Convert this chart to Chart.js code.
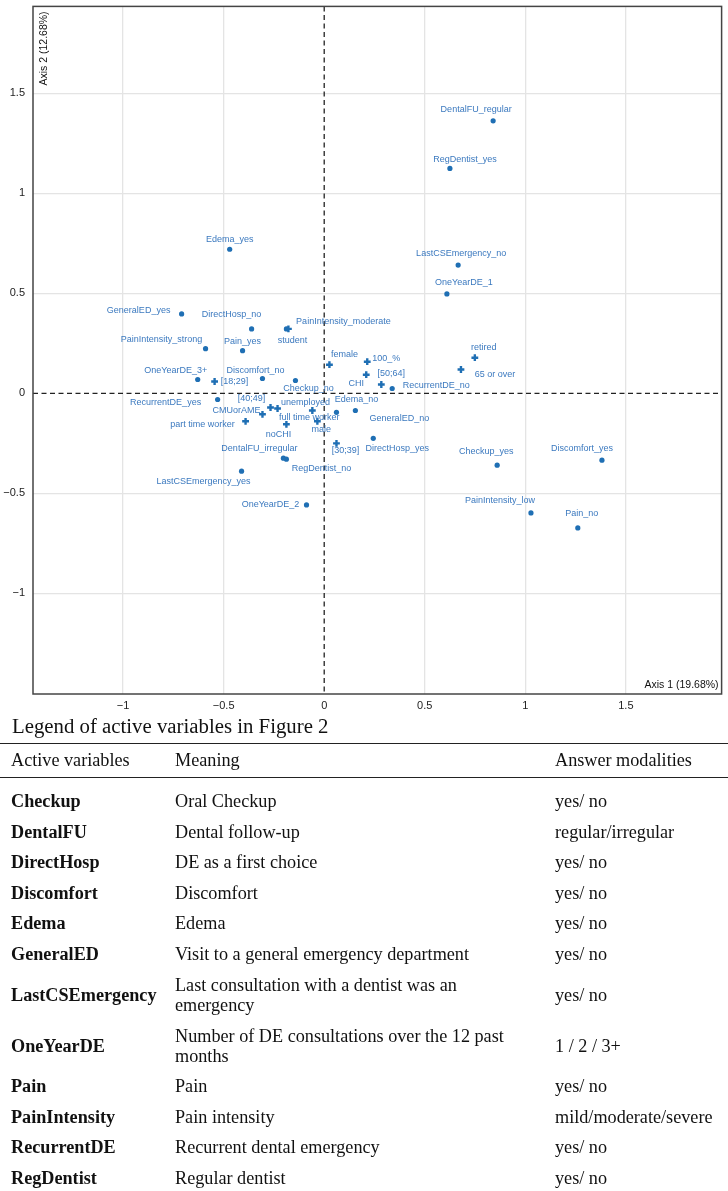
<!DOCTYPE html>
<html>
<head>
<meta charset="utf-8">
<script src="https://cdn.jsdelivr.net/npm/chart.js@4.4.1/dist/chart.umd.min.js"></script>
<style>
body{margin:0;background:#fff;width:728px;height:1191px;overflow:hidden}
#wrap{width:728px;height:716px}
.title{font-family:"Liberation Serif","Times New Roman",serif;font-size:20.8px;color:#111;height:27px;line-height:20px;padding-left:12px;box-sizing:border-box}
table{width:728px;border-collapse:collapse;table-layout:fixed;font-family:"Liberation Serif","Times New Roman",serif;font-size:18.2px;color:#111}
th{font-weight:normal;text-align:left;height:33px;padding:0;border-top:1px solid #222;border-bottom:1px solid #222;vertical-align:middle}
td{padding:0;height:30.5px;line-height:20px;vertical-align:middle}
td.m{padding-right:28px}
td.v,th.v{padding-left:11px;font-weight:bold}
th.v{font-weight:normal}
tr.two td{height:51px}
tr.gap td{height:8px}
</style>
</head>
<body>
<div id="wrap"><canvas id="chart" width="728" height="716"></canvas></div>
<div class="title">Legend of active variables in Figure 2</div>
<table id="legend">
<colgroup><col style="width:175px"><col style="width:380px"><col style="width:173px"></colgroup>
</table>
<script>
// active categories (dots)
var activeLabels = ['DentalFU_regular','RegDentist_yes','Edema_yes','LastCSEmergency_no','OneYearDE_1',
  'GeneralED_yes','DirectHosp_no','PainIntensity_moderate','PainIntensity_strong','Pain_yes',
  'RecurrentDE_no','OneYearDE_3+','Discomfort_no','Checkup_no','RecurrentDE_yes','Edema_no',
  'GeneralED_no','DirectHosp_yes','DentalFU_irregular','RegDentist_no','LastCSEmergency_yes',
  'OneYearDE_2','Checkup_yes','Discomfort_yes','PainIntensity_low','Pain_no']
var activeX = [0.84, 0.625, -0.47, 0.666, 0.61, -0.709, -0.361, -0.188, -0.59, -0.406,
  0.338, -0.629, -0.307, -0.143, -0.53, 0.061, 0.155, 0.244, -0.203, -0.188, -0.411,
  -0.088, 0.86, 1.381, 1.028, 1.261]
var activeY = [1.362, 1.124, 0.72, 0.641, 0.497, 0.397, 0.322, 0.322, 0.223, 0.213,
  0.024, 0.069, 0.074, 0.064, -0.031, -0.095, -0.086, -0.225, -0.324, -0.329, -0.389,
  -0.558, -0.359, -0.334, -0.598, -0.673]

// supplementary categories (crosses)
var suppLabels = ['student','female','100_%','CHI','[50;64]','retired','65 or over','[18;29]',
  '[40;49]','unemployed','full time worker','CMUorAME','part time worker','noCHI','male','[30;39]']
var suppX = [-0.178, 0.026, 0.214, 0.209, 0.284, 0.749, 0.68, -0.545,
  -0.267, -0.232, -0.059, -0.307, -0.391, -0.188, -0.034, 0.061]
var suppY = [0.322, 0.143, 0.158, 0.093, 0.044, 0.178, 0.119, 0.059,
  -0.071, -0.076, -0.086, -0.105, -0.14, -0.155, -0.14, -0.25]

var xTicks = [-1, -0.5, 0, 0.5, 1, 1.5]
var yTicks = [-1, -0.5, 0, 0.5, 1, 1.5]
var xTitle = 'Axis 1 (19.68%)'
var yTitle = 'Axis 2 (12.68%)'

// legend table
var tableHead = ['Active variables', 'Meaning', 'Answer modalities']
var tableVariables = ['Checkup','DentalFU','DirectHosp','Discomfort','Edema','GeneralED',
  'LastCSEmergency','OneYearDE','Pain','PainIntensity','RecurrentDE','RegDentist']
var tableMeanings = ['Oral Checkup','Dental follow-up','DE as a first choice','Discomfort','Edema',
  'Visit to a general emergency department','Last consultation with a dentist was an emergency',
  'Number of DE consultations over the 12 past months','Pain','Pain intensity',
  'Recurrent dental emergency','Regular dentist']
var tableModalities = ['yes/ no','regular/irregular','yes/ no','yes/ no','yes/ no','yes/ no','yes/ no',
  '1 / 2 / 3+','yes/ no','mild/moderate/severe','yes/ no','yes/ no']

// where each label sits relative to its point (px)
var labelNudge = {
  'DentalFU_regular':[-17,-11], 'RegDentist_yes':[15,-9], 'Edema_yes':[0,-10],
  'LastCSEmergency_no':[3,-12], 'OneYearDE_1':[17,-11], 'GeneralED_yes':[-43,-3],
  'DirectHosp_no':[-20,-14], 'PainIntensity_moderate':[57,-7], 'PainIntensity_strong':[-44,-9],
  'Pain_yes':[0,-9], 'RecurrentDE_no':[44,-3], 'OneYearDE_3+':[-22,-9], 'Discomfort_no':[-7,-8],
  'Checkup_no':[13,8], 'RecurrentDE_yes':[-52,3], 'Edema_no':[20,-13], 'GeneralED_no':[44,8],
  'DirectHosp_yes':[24,10], 'DentalFU_irregular':[-24,-10], 'RegDentist_no':[35,9],
  'LastCSEmergency_yes':[-38,10], 'OneYearDE_2':[-36,0], 'Checkup_yes':[-11,-14],
  'Discomfort_yes':[-20,-12], 'PainIntensity_low':[-31,-12], 'Pain_no':[4,-14],
  'student':[4,12], 'female':[15,-10], '100_%':[19,-3], 'CHI':[-10,9], '[50;64]':[10,-11],
  'retired':[9,-10], '65 or over':[34,5], '[18;29]':[20,0], '[40;49]':[-19,-9],
  'unemployed':[28,-6], 'full time worker':[-3,7], 'CMUorAME':[-26,-4],
  'part time worker':[-43,3], 'noCHI':[-8,10], 'male':[4,8], '[30;39]':[9,7]
}

var blue = '#1f6fb4'
var labelBlue = '#3b79bf'

function pointsFrom(xs, ys) {
  return xs.map(function(x, i) { return {x: x, y: ys[i]} })
}
function minusFormat(v) {
  return v < 0 ? '\u2212' + Math.abs(v) : String(v)
}

var framePlugin = {
  id: 'frame',
  beforeDatasetsDraw: function(chart) {
    var ctx = chart.ctx, a = chart.chartArea
    var x0 = chart.scales.x.getPixelForValue(0)
    var y0 = chart.scales.y.getPixelForValue(0)
    ctx.save()
    ctx.strokeStyle = '#222'
    ctx.lineWidth = 1.3
    ctx.setLineDash([5, 3.5])
    ctx.beginPath()
    ctx.moveTo(x0, a.top); ctx.lineTo(x0, a.bottom)
    ctx.moveTo(a.left, y0); ctx.lineTo(a.right, y0)
    ctx.stroke()
    ctx.setLineDash([])
    ctx.strokeStyle = '#444'
    ctx.lineWidth = 1.5
    ctx.strokeRect(a.left, a.top, a.right - a.left, a.bottom - a.top)
    ctx.restore()
  },
  afterDatasetsDraw: function(chart) {
    var ctx = chart.ctx, a = chart.chartArea
    ctx.save()
    ctx.font = '9px "Liberation Sans", Arial, sans-serif'
    ctx.fillStyle = labelBlue
    ctx.textAlign = 'center'
    ctx.textBaseline = 'middle'
    chart.data.datasets.forEach(function(ds, di) {
      var meta = chart.getDatasetMeta(di)
      meta.data.forEach(function(el, i) {
        var name = ds.names[i]
        var n = labelNudge[name] || [0, -10]
        ctx.fillText(name, el.x + n[0], el.y + n[1])
      })
    })
    ctx.fillStyle = '#111'
    ctx.font = '10.5px "Liberation Sans", Arial, sans-serif'
    ctx.textAlign = 'right'
    ctx.textBaseline = 'bottom'
    ctx.fillText(xTitle, a.right - 3, a.bottom - 4)
    ctx.translate(a.left + 11, a.top + 5)
    ctx.rotate(-Math.PI / 2)
    ctx.textAlign = 'right'
    ctx.textBaseline = 'middle'
    ctx.fillText(yTitle, 0, 0)
    ctx.restore()
  }
}

var gridColor = function(c) { return c.tick && c.tick.value === 0 ? 'rgba(0,0,0,0)' : '#e4e4e4' }

new Chart(document.getElementById('chart').getContext('2d'), {
  type: 'scatter',
  data: {
    datasets: [{
      names: activeLabels,
      data: pointsFrom(activeX, activeY),
      pointStyle: 'circle',
      pointRadius: 2.6,
      pointBackgroundColor: blue,
      pointBorderWidth: 0
    }, {
      names: suppLabels,
      data: pointsFrom(suppX, suppY),
      pointStyle: 'cross',
      pointRadius: 3.4,
      pointBorderColor: blue,
      pointBorderWidth: 2.4
    }]
  },
  options: {
    responsive: false,
    animation: false,
    devicePixelRatio: 1,
    layout: {padding: {left: 0, right: 5, top: 1, bottom: 0}},
    plugins: {legend: {display: false}, tooltip: {enabled: false}},
    scales: {
      x: {
        type: 'linear', min: -1.448, max: 1.976,
        afterBuildTicks: function(s) { s.ticks = xTicks.map(function(v) { return {value: v} }) },
        afterFit: function(s) { s.height = 22; s.paddingLeft = 0; s.paddingRight = 0 },
        grid: {color: gridColor, lineWidth: 1.3, drawTicks: false},
        border: {display: false},
        ticks: {padding: 5, color: '#222', font: {family: '"Liberation Sans", Arial', size: 11},
          callback: minusFormat, maxRotation: 0}
      },
      y: {
        type: 'linear', min: -1.503, max: 1.934,
        afterBuildTicks: function(s) { s.ticks = yTicks.map(function(v) { return {value: v} }) },
        afterFit: function(s) { s.width = 33; s.paddingTop = 0; s.paddingBottom = 0 },
        grid: {color: gridColor, lineWidth: 1.3, drawTicks: false},
        border: {display: false},
        ticks: {padding: 8, color: '#222', font: {family: '"Liberation Sans", Arial', size: 11},
          callback: minusFormat}
      }
    }
  },
  plugins: [framePlugin]
})

// build the legend table
var table = document.getElementById('legend')
var head = '<tr>' + tableHead.map(function(h, i) {
  return '<th' + (i === 0 ? ' class="v"' : '') + '>' + h + '</th>'
}).join('') + '</tr><tr class="gap"><td></td><td></td><td></td></tr>'
var body = tableVariables.map(function(v, i) {
  var two = tableMeanings[i].length > 42
  return '<tr' + (two ? ' class="two"' : '') + '><td class="v">' + v + '</td><td class="m">' +
    tableMeanings[i] + '</td><td>' + tableModalities[i] + '</td></tr>'
}).join('')
table.insertAdjacentHTML('beforeend', head + body)
</script>
</body>
</html>
